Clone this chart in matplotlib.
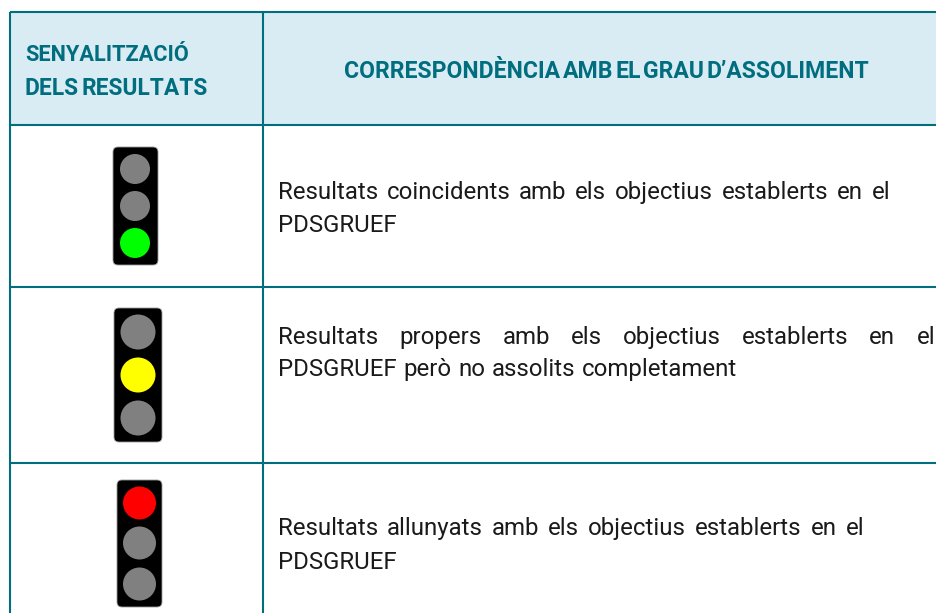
import matplotlib
matplotlib.use("Agg")
import matplotlib.pyplot as plt
from matplotlib.patches import FancyBboxPatch, Circle, Rectangle

W, H = 936, 613
TEAL = "#006E7F"
HEAD_BG = "#DAECF3"
TXT = "#1a1a1a"

header_left = ["SENYALITZACIÓ", "DELS RESULTATS"]
header_right = "CORRESPONDÈNCIA AMB EL GRAU D’ASSOLIMENT"
row_lines = [
    ["Resultats coincidents amb els objectius establerts en el", "PDSGRUEF"],
    ["Resultats propers amb els objectius establerts en el", "PDSGRUEF però no assolits completament"],
    ["Resultats allunyats amb els objectius establerts en el", "PDSGRUEF"],
]
active_lamp = [2, 1, 0]
lamp_colors = ["#FF0000", "#FFFF00", "#00FF00"]

fig = plt.figure(figsize=(W / 100, H / 100), dpi=100, facecolor="white")
ax = fig.add_axes([0, 0, 1, 1])
ax.set_xlim(0, W)
ax.set_ylim(H, 0)
ax.axis("off")
renderer = fig.canvas.get_renderer()

ax.add_patch(Rectangle((10, 12), W - 10, 113, fc=HEAD_BG, ec="none", zorder=0))
for y in (12, 125, 287, 463):
    ax.plot([10, W], [y, y], color=TEAL, lw=1.5, solid_capstyle="butt", zorder=1)
for x in (10, 263):
    ax.plot([x, x], [12, H], color=TEAL, lw=1.5, solid_capstyle="butt", zorder=1)


def fit_line(s, x0, x1, y, **kw):
    """Place a line word by word so it spans x0..x1 (x1=None keeps natural spacing)."""
    words = s.split(" ")
    arts = [ax.text(x0, y, w, ha="left", va="baseline", **kw) for w in words]
    widths = [a.get_window_extent(renderer).width for a in arts]
    if x1 is None or len(words) == 1:
        sp = kw["fontsize"] * 100 / 72 * 0.25
    else:
        sp = (x1 - x0 - sum(widths)) / (len(words) - 1)
    x = x0
    for a, w in zip(arts, widths):
        a.set_x(x)
        x += w + sp


head = dict(color=TEAL, fontweight="bold", family="Roboto")
fit_line(header_left[0], 25, 189, 61, fontsize=15.7, **head)
fit_line(header_left[1], 25, 208, 95, fontsize=16.4, **head)
fit_line(header_right, 344, 869, 78, fontsize=16.6, **head)

body = dict(color=TXT, family="Roboto", fontsize=17.3)
spans = [(278, 890), (278, 935), (278, 864)]
baselines = [(199, 232), (344, 376), (535, 569)]
second_spans = [(278, None), (278, 737), (278, None)]
for lines, sp, bl, sp2 in zip(row_lines, spans, baselines, second_spans):
    fit_line(lines[0], sp[0], sp[1], bl[0], **body)
    fit_line(lines[1], sp2[0], sp2[1], bl[1], **body)

lights = [
    dict(box=(113, 147, 158, 265), cx=135, cy=(169, 206, 243), r=15),
    dict(box=(114, 308, 162, 442), cx=138, cy=(332, 375, 418), r=17.5),
    dict(box=(117, 480, 162, 607), cx=139.5, cy=(503, 543, 584), r=16.5),
]
for lg, act in zip(lights, active_lamp):
    x0, y0, x1, y1 = lg["box"]
    ax.add_patch(FancyBboxPatch((x0 + 5, y0 + 5), x1 - x0 - 10, y1 - y0 - 10,
                                boxstyle="round,pad=5,rounding_size=5",
                                fc="black", ec="#9a9a9a", lw=0.6, zorder=2))
    for i, cy in enumerate(lg["cy"]):
        c = lamp_colors[i] if i == act else "#808080"
        ax.add_patch(Circle((lg["cx"], cy), lg["r"], fc=c, ec="none", zorder=3))

fig.savefig("out.png", dpi=100, facecolor="white")
